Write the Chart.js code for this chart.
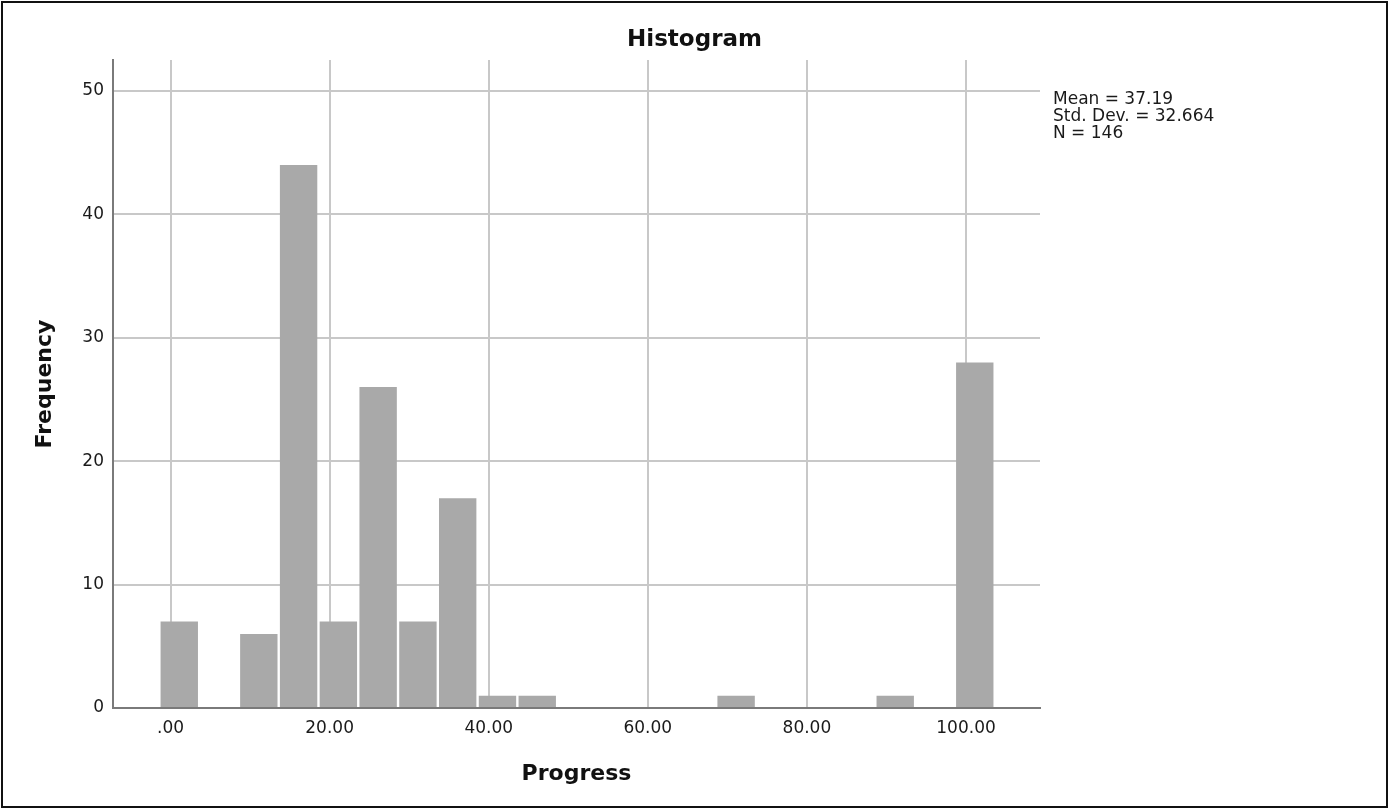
<!DOCTYPE html>
<html>
<head>
<meta charset="utf-8">
<script src="https://cdn.jsdelivr.net/npm/chart.js@4.4.1/dist/chart.umd.min.js"></script>
<style>
  html, body { margin: 0; padding: 0; background: #fff; }
  #wrap { position: relative; width: 1389px; height: 809px; }
  #c { position: absolute; left: 0; top: 0; }
  #frame { position: absolute; left: 1px; top: 1px; width: 1387px; height: 807px; box-sizing: border-box; border: 2px solid #111; pointer-events: none; }
</style>
</head>
<body>
<div id="wrap">
  <canvas id="c" width="1389" height="809"></canvas>
  <div id="frame"></div>
</div>
<script>
// ---- data ----
const binCenters = [1.1, 6.1, 11.1, 16.1, 21.1, 26.1, 31.1, 36.1, 41.1, 46.1, 51.1, 56.1, 61.1, 66.1, 71.1, 76.1, 81.1, 86.1, 91.1, 96.1, 101.1];
const frequencies = [7, 0, 6, 44, 7, 26, 7, 17, 1, 1, 0, 0, 0, 0, 1, 0, 0, 0, 1, 0, 28];
const xTickValues = [0, 20, 40, 60, 80, 100];
const xTickLabels = ['.00', '20.00', '40.00', '60.00', '80.00', '100.00'];
const yTickValues = [0, 10, 20, 30, 40, 50];
const chartTitle = 'Histogram';
const xTitle = 'Progress';
const yTitle = 'Frequency';
const statsLines = ['Mean = 37.19', 'Std. Dev. = 32.664', 'N = 146'];

const points = binCenters.map((x, i) => ({ x: x, y: frequencies[i] }));

const textPlugin = {
  id: 'spssText',
  afterDraw(chart) {
    const ctx = chart.ctx;
    ctx.save();
    ctx.fillStyle = '#111';
    ctx.font = 'bold 23px "DejaVu Sans"';
    ctx.textAlign = 'center';
    ctx.textBaseline = 'middle';
    ctx.fillText(chartTitle, chart.width / 2, 40);
    ctx.fillStyle = '#1a1a1a';
    ctx.font = '17px "DejaVu Sans"';
    ctx.textAlign = 'left';
    statsLines.forEach((t, i) => ctx.fillText(t, 1053, 100 + i * 17));
    ctx.restore();
  }
};

new Chart(document.getElementById('c'), {
  type: 'bar',
  data: {
    datasets: [{
      data: points,
      backgroundColor: '#a9a9a9',
      borderWidth: 0,
      barPercentage: 0.94,
      categoryPercentage: 1.0
    }]
  },
  options: {
    responsive: false,
    animation: false,
    layout: { padding: { left: 0, right: 349, top: 60, bottom: 0 } },
    plugins: { legend: { display: false }, tooltip: { enabled: false }, title: { display: false } },
    scales: {
      x: {
        type: 'linear',
        min: -7.23,
        max: 109.3,
        offset: false,
        afterBuildTicks: s => { s.ticks = xTickValues.map(v => ({ value: v })); },
        afterFit: s => { s.height = 101; },
        ticks: {
          includeBounds: false,
          padding: 10,
          color: '#1a1a1a',
          font: { family: 'DejaVu Sans', size: 17 },
          maxRotation: 0,
          callback: (v) => xTickLabels[xTickValues.indexOf(v)]
        },
        grid: { offset: false, color: '#c8c8c8', lineWidth: 2, drawTicks: false },
        border: { color: '#7a7a7a', width: 2 },
        title: { display: true, text: xTitle, color: '#111', font: { family: 'DejaVu Sans', size: 22, weight: 'bold' }, padding: { top: 0, bottom: 22 } }
      },
      y: {
        type: 'linear',
        min: 0,
        max: 52.5,
        afterBuildTicks: s => { s.ticks = yTickValues.map(v => ({ value: v })); },
        afterFit: s => { s.width = 113; },
        ticks: {
          includeBounds: false,
          padding: 9,
          color: '#1a1a1a',
          font: { family: 'DejaVu Sans', size: 17 }
        },
        grid: { color: '#c8c8c8', lineWidth: 2, drawTicks: false },
        border: { color: '#7a7a7a', width: 2 },
        title: { display: true, text: yTitle, color: '#111', font: { family: 'DejaVu Sans', size: 22, weight: 'bold' }, padding: { top: 32, bottom: 0 } }
      }
    }
  },
  plugins: [textPlugin]
});
</script>
</body>
</html>
